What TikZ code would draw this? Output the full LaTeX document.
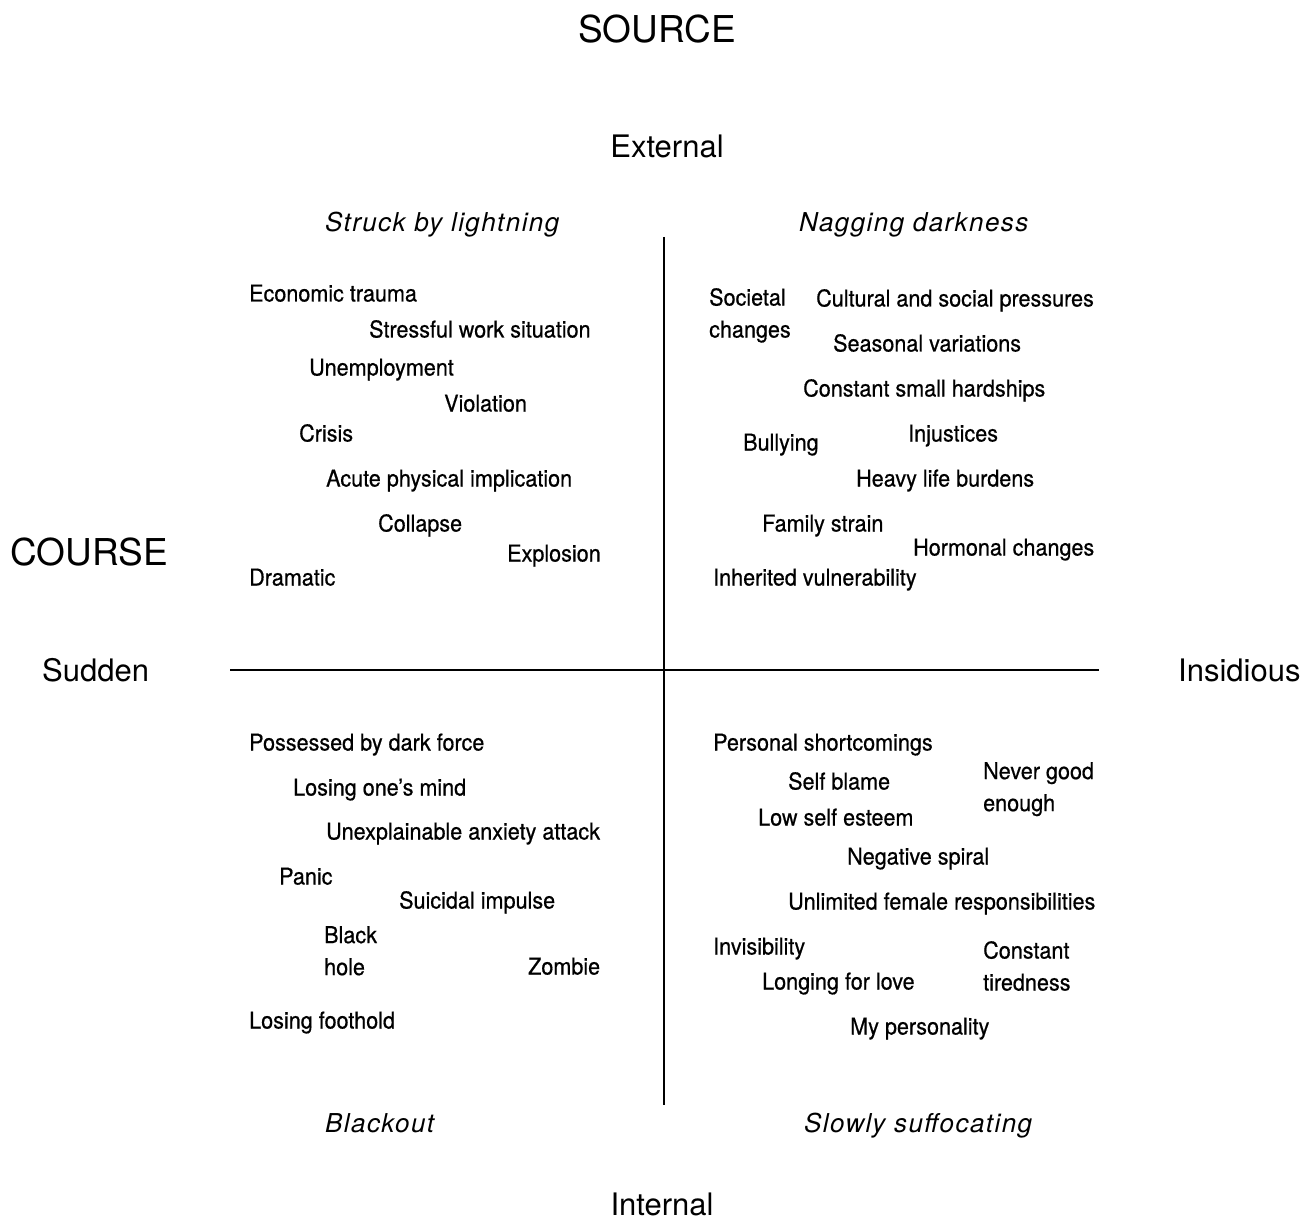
\documentclass[tikz,border=0pt]{standalone}
\usepackage{fontspec}
\setmainfont{TeX Gyre Heros}
\newfontfamily\itemfont[FakeStretch=0.93,FakeBold=0.6]{TeX Gyre Heros}
\newfontfamily\ttlfont[LetterSpace=5.5]{TeX Gyre Heros}
\begin{document}
\begin{tikzpicture}[x=1pt,y=-1pt,
  itm/.style={anchor=base west,inner sep=0pt,font=\itemfont\fontsize{23.2}{32}\selectfont},
  itm2/.style={anchor=north west,inner sep=0pt,align=left,font=\itemfont\fontsize{23.2}{32}\selectfont},
  ttl/.style={anchor=base west,inner sep=0pt,font=\ttlfont\itshape\fontsize{26}{30}\selectfont},
  axl/.style={inner sep=0pt,font=\fontsize{31}{36}\selectfont},
  bigl/.style={inner sep=0pt,font=\fontsize{37}{42}\selectfont},
  axis/.style={line width=2.2pt}]
\useasboundingbox (0,0) rectangle (1303,1222);
% axes
\coordinate (vt) at (664,237);
\coordinate (vb) at (664,1105);
\coordinate (hl) at (230,670);
\coordinate (hr) at (1099,670);
\draw[axis] (vt) -- (vb);
\draw[axis] (hl) -- (hr);
% axis labels
\node[bigl,anchor=base] (source) at (657,43) {SOURCE};
\node[bigl,anchor=base west] (course) at (10,565) {COURSE};
\node[axl,anchor=base] (external) at (667,158) {External};
\node[axl,anchor=base] (internal) at (662,1215) {Internal};
\node[axl,anchor=base west] (sudden) at (42,681) {Sudden};
\node[axl,anchor=base west] (insidious) at (1178,681) {Insidious};
% titles
\node[ttl] (t1) at (325,232) {Struck by lightning};
\node[ttl] (t2) at (799,232) {Nagging darkness};
\node[ttl] (t3) at (325,1132) {Blackout};
\node[ttl] (t4) at (804,1132) {Slowly suffocating};
% top-left
\node[itm] (a1) at (249,301.5) {Economic trauma};
\node[itm] (a2) at (369,337.5) {Stressful work situation};
\node[itm] (a3) at (309,375.5) {Unemployment};
\node[itm] (a4) at (444,411.5) {Violation};
\node[itm] (a5) at (299,441.5) {Crisis};
\node[itm] (a6) at (326,486.5) {Acute physical implication};
\node[itm] (a7) at (378,531.5) {Collapse};
\node[itm] (a8) at (507,561.5) {Explosion};
\node[itm] (a9) at (249,585.5) {Dramatic};
% top-right
\node[itm2] (b1) at (709,288) {Societal\\changes};
\node[itm] (b2) at (816,306.5) {Cultural and social pressures};
\node[itm] (b3) at (833,351.5) {Seasonal variations};
\node[itm] (b4) at (803,396.5) {Constant small hardships};
\node[itm] (b5) at (743,450.5) {Bullying};
\node[itm] (b6) at (908,441.5) {Injustices};
\node[itm] (b7) at (856,486.5) {Heavy life burdens};
\node[itm] (b8) at (762,531.5) {Family strain};
\node[itm] (b9) at (913,555.5) {Hormonal changes};
\node[itm] (b10) at (713,585.5) {Inherited vulnerability};
% bottom-left
\node[itm] (c1) at (249,750.5) {Possessed by dark force};
\node[itm] (c2) at (293,795.5) {Losing one’s mind};
\node[itm] (c3) at (326,839.5) {Unexplainable anxiety attack};
\node[itm] (c4) at (279,884.5) {Panic};
\node[itm] (c5) at (399,908.5) {Suicidal impulse};
\node[itm2] (c6) at (324,926) {Black\\hole};
\node[itm] (c7) at (528,974.5) {Zombie};
\node[itm] (c8) at (249,1028.5) {Losing foothold};
% bottom-right
\node[itm] (d1) at (713,750.5) {Personal shortcomings};
\node[itm] (d2) at (788,789.5) {Self blame};
\node[itm2] (d3) at (983,762) {Never good\\enough};
\node[itm] (d4) at (758,825.5) {Low self esteem};
\node[itm] (d5) at (847,864.5) {Negative spiral};
\node[itm] (d6) at (788,909.5) {Unlimited female responsibilities};
\node[itm] (d7) at (713,954.5) {Invisibility};
\node[itm2] (d8) at (983,941) {Constant\\tiredness};
\node[itm] (d9) at (762,989.5) {Longing for love};
\node[itm] (d10) at (850,1034.5) {My personality};
\end{tikzpicture}
\end{document}
